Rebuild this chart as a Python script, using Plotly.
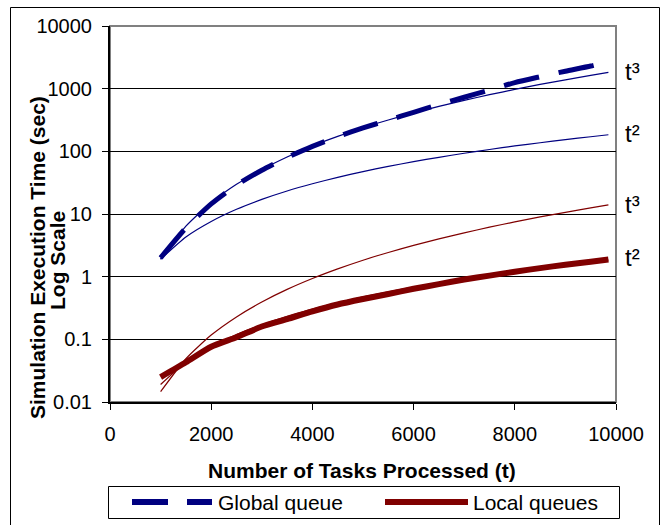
import plotly.graph_objects as go

# ---------------- data ----------------
tasks = [1000, 1500, 2000, 2500, 3000, 3500, 4000, 4500, 5000, 5500,
         6000, 6500, 7000, 7500, 8000, 8500, 9000, 9500, 9850]

global_queue = [2.0, 6.0, 14.5, 29, 50, 80, 120, 172, 236, 315,
                420, 560, 730, 950, 1250, 1550, 1900, 2300, 2700]
global_fit_t3 = [1.9, 6.4, 15.2, 29.7, 51, 81, 122, 173, 238, 316,
                 410, 522, 652, 801, 973, 1167, 1385, 1629, 1816]
global_fit_t2 = [1.9, 4.3, 7.6, 11.9, 17.1, 23.3, 30.4, 38.5, 47.5, 57.5,
                 68.4, 80.3, 93.1, 107, 122, 137, 154, 171, 184]

local_queues = [0.025, 0.043, 0.076, 0.108, 0.16, 0.21, 0.28, 0.36, 0.44, 0.53,
                0.64, 0.76, 0.90, 1.04, 1.20, 1.37, 1.55, 1.73, 1.88]
local_fit_t3 = [0.0146, 0.049, 0.117, 0.228, 0.394, 0.626, 0.934, 1.33, 1.83, 2.43,
                3.15, 4.01, 5.01, 6.16, 7.48, 8.97, 10.6, 12.5, 13.95]
local_fit_t2 = [0.019, 0.043, 0.076, 0.119, 0.171, 0.233, 0.304, 0.385, 0.475, 0.575,
                0.684, 0.80, 0.93, 1.07, 1.22, 1.37, 1.54, 1.71, 1.84]

x_ticks = [0, 2000, 4000, 6000, 8000, 10000]
x_tick_labels = ["0", "2000", "4000", "6000", "8000", "10000"]
y_ticks = [0.01, 0.1, 1, 10, 100, 1000, 10000]
y_tick_labels = ["0.01", "0.1", "1", "10", "100", "1000", "10000"]

fit_labels = ["t\u00b3", "t\u00b2", "t\u00b3", "t\u00b2"]
fit_label_y = [3.27, 2.29, 1.145, 0.30]   # log10 positions at the right edge

NAVY = "#000080"
DRED = "#800000"
FONT = "Arial, Liberation Sans, sans-serif"

# ---------------- layout geometry ----------------
W, H = 666, 525
L, R, T, B = 110, 50, 26, 123
PW, PH = W - L - R, H - T - B


def px(xp):
    return (xp - L) / PW


def py(yp):
    return (H - B - yp) / PH


fig = go.Figure()

line_spec = [
    (global_fit_t3, NAVY, 1.2, "solid"),
    (global_fit_t2, NAVY, 1.2, "solid"),
    (local_fit_t3, DRED, 1.2, "solid"),
    (local_fit_t2, DRED, 1.2, "solid"),
    (global_queue, NAVY, 5, "36px,20px"),
    (local_queues, DRED, 6, "solid"),
]
names = ["Global t^3", "Global t^2", "Local t^3", "Local t^2", "Global queue", "Local queues"]
for (vals, col, w, dash), nm in zip(line_spec, names):
    fig.add_trace(go.Scatter(
        x=tasks, y=vals, mode="lines", name=nm, showlegend=False,
        line=dict(color=col, width=w, dash=dash, shape="spline", smoothing=0.6),
        hoverinfo="x+y",
    ))

shapes = [
    # plot-area frame (grey top/right)
    dict(type="rect", xref="paper", yref="paper", x0=0, x1=1, y0=0, y1=1,
         line=dict(color="#808080", width=2), layer="below"),
    # outer chart border
    dict(type="rect", xref="paper", yref="paper", x0=px(10.5), x1=px(659.5),
         y0=py(535), y1=py(7.5), line=dict(color="black", width=1)),
    # legend box
    dict(type="rect", xref="paper", yref="paper", x0=px(108.5), x1=px(619.5),
         y0=py(518.5), y1=py(486.5), line=dict(color="black", width=1)),
    # legend keys
    dict(type="line", xref="paper", yref="paper", x0=px(132), x1=px(212),
         y0=py(502), y1=py(502), line=dict(color=NAVY, width=6, dash="36px,19px")),
    dict(type="line", xref="paper", yref="paper", x0=px(385), x1=px(468),
         y0=py(502), y1=py(502), line=dict(color=DRED, width=6)),
]

annotations = [
    dict(text="Global queue", xref="paper", yref="paper", x=px(216), y=py(502),
         xanchor="left", yanchor="middle", showarrow=False,
         font=dict(family=FONT, size=21, color="black")),
    dict(text="Local queues", xref="paper", yref="paper", x=px(471), y=py(502),
         xanchor="left", yanchor="middle", showarrow=False,
         font=dict(family=FONT, size=21, color="black")),
    dict(text="<b>Number of Tasks Processed (t)</b>", xref="paper", yref="paper",
         x=px(362), y=py(470), xanchor="center", yanchor="middle", showarrow=False,
         font=dict(family=FONT, size=21, color="black")),
    dict(text="<b>Simulation Execution Time (sec)</b>", xref="paper", yref="paper",
         x=px(37), y=py(258), xanchor="center", yanchor="middle", showarrow=False,
         textangle=-90, font=dict(family=FONT, size=21, color="black")),
    dict(text="<b>Log Scale</b>", xref="paper", yref="paper",
         x=px(57), y=py(261), xanchor="center", yanchor="middle", showarrow=False,
         textangle=-90, font=dict(family=FONT, size=21, color="black")),
]
for lab, yv in zip(fit_labels, fit_label_y):
    annotations.append(dict(text=lab, xref="paper", yref="y", x=px(623), y=yv,
                            xanchor="left", yanchor="middle", showarrow=False,
                            font=dict(family=FONT, size=24, color="black")))

fig.update_layout(
    width=W, height=H,
    margin=dict(l=L, r=R, t=T, b=B, pad=0),
    paper_bgcolor="white", plot_bgcolor="white",
    font=dict(family=FONT, size=20, color="black"),
    showlegend=False,
    shapes=shapes, annotations=annotations,
    xaxis=dict(range=[0, 10000], tickvals=x_ticks, ticktext=x_tick_labels,
               ticks="outside", ticklen=6,
               tickcolor="black", showline=True, linecolor="black", linewidth=2,
               showgrid=False, zeroline=False, tickfont=dict(size=20),
               ticklabelstandoff=7),
    yaxis=dict(type="log", range=[-2, 4], tickvals=y_ticks, ticktext=y_tick_labels,
               ticks="outside", ticklen=6, tickcolor="black", showline=True,
               linecolor="black", linewidth=2, showgrid=True, gridcolor="black",
               gridwidth=1, zeroline=False, tickfont=dict(size=20),
               ticklabelstandoff=6),
)

fig.write_html(
    "out.html",
    config={"displayModeBar": False},
    post_script="document.body.style.margin='0';document.body.style.padding='0';",
)
